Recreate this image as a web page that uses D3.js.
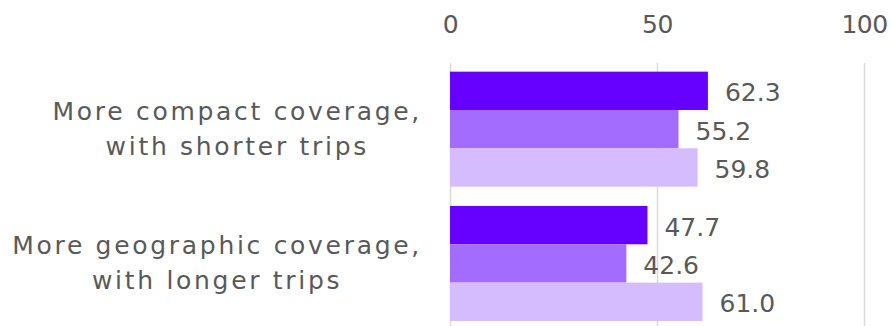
<!DOCTYPE html>
<html>
<head>
<meta charset="utf-8">
<script src="https://cdn.jsdelivr.net/npm/d3@7"></script>
<style>
  html, body { margin: 0; padding: 0; background: #fff; }
  svg { display: block; }
  text { font-family: "DejaVu Sans", sans-serif; fill: #595959; }
</style>
</head>
<body>
<svg id="chart" width="891" height="326"></svg>
<script>
const categories = [
  ["More compact coverage,", "with shorter trips"],
  ["More geographic coverage,", "with longer trips"]
];
const seriesNames = ["Series A", "Series B", "Series C"];
const seriesValues = [
  [62.3, 55.2, 59.8],
  [47.7, 42.6, 61.0]
];
const tickValues = [0, 50, 100];
const colors = ["#6600FF", "#A36CFF", "#D4BCFF"];

const svg = d3.select("#chart");
const W = 891, H = 326;

const x = d3.scaleLinear().domain([0, 100]).range([450, 864]);
const y0 = d3.scaleBand().domain(d3.range(categories.length))
  .range([62, 330.6]).paddingInner(0.1437).paddingOuter(0.0719);
const y1 = d3.scaleBand().domain(d3.range(seriesNames.length))
  .range([0, y0.bandwidth()]).padding(0);

const axisTop = 63;
const axis = d3.axisTop(x).tickValues(tickValues).tickSize(-(H + 10 - axisTop)).tickPadding(30);
const gAxis = svg.append("g").attr("transform", `translate(0,${axisTop})`).call(axis);
gAxis.select(".domain").remove();
gAxis.selectAll(".tick line").attr("stroke", "#d9d9d9").attr("stroke-width", 1.5);
gAxis.selectAll(".tick text").attr("font-size", 25).style("fill", "#595959")
  .attr("font-family", "'DejaVu Sans', sans-serif").attr("letter-spacing", -0.5);

const groups = svg.append("g").selectAll("g").data(seriesValues).join("g")
  .attr("transform", (d, i) => `translate(0,${y0(i)})`);

groups.selectAll("rect").data(d => d).join("rect")
  .attr("x", x(0))
  .attr("y", (d, j) => y1(j))
  .attr("width", d => x(d) - x(0))
  .attr("height", y1.bandwidth())
  .attr("fill", (d, j) => colors[j]);

groups.selectAll("text.val").data(d => d).join("text")
  .attr("class", "val")
  .attr("x", d => x(d) + 17)
  .attr("y", (d, j) => y1(j) + y1.bandwidth() / 2 + 2)
  .attr("dominant-baseline", "central")
  .attr("font-size", 25)
  .text(d => d.toFixed(1));

// Category labels: wrapped lines centered within a right-aligned block
const labelRight = 422;
const lineGap = 35;
categories.forEach((lines, i) => {
  const cy = y0(i) + y0.bandwidth() / 2;
  const g = svg.append("g");
  const texts = lines.map((ln, k) => g.append("text")
    .attr("font-size", 25)
    .attr("letter-spacing", 2.7)
    .attr("text-anchor", "middle")
    .attr("dominant-baseline", "central")
    .attr("y", cy + (k - (lines.length - 1) / 2) * lineGap)
    .text(ln));
  const maxW = d3.max(texts, t => t.node().getComputedTextLength());
  texts.forEach(t => t.attr("x", labelRight - maxW / 2));
});
</script>
</body>
</html>
